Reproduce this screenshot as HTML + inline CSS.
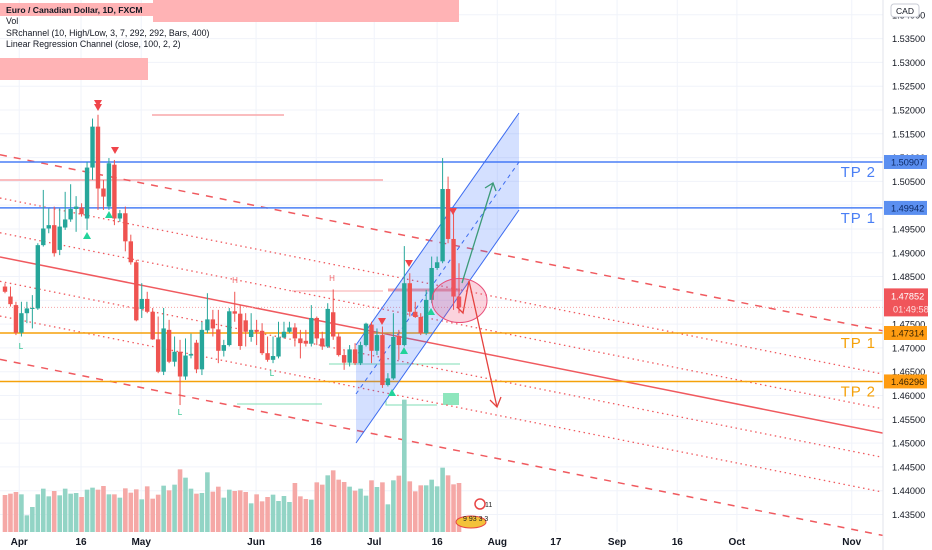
<!DOCTYPE html>
<html><head><meta charset="utf-8">
<style>
html,body{margin:0;padding:0;background:#fff;}
#wrap{position:relative;width:932px;height:550px;overflow:hidden;font-family:"Liberation Sans",sans-serif;}
svg text{font-family:"Liberation Sans",sans-serif;}
</style></head>
<body>
<div id="wrap">
<svg id="chart" width="932" height="550" xmlns="http://www.w3.org/2000/svg"></svg>
</div>
<script>
const opens=[1.4829,1.4808,1.4790,1.4732,1.4773,1.4783,1.4783,1.4916,1.4951,1.4958,1.4906,1.4953,1.4970,1.4992,1.4995,1.4972,1.5079,1.5165,1.5035,1.4997,1.5085,1.4972,1.4983,1.4924,1.4880,1.4782,1.4803,1.4776,1.4718,1.4650,1.4738,1.4671,1.4692,1.4640,1.4684,1.4711,1.4655,1.4737,1.4760,1.4739,1.4694,1.4706,1.4777,1.4772,1.4758,1.4723,1.4738,1.4736,1.4689,1.4675,1.4682,1.4722,1.4734,1.4743,1.4720,1.4715,1.4709,1.4763,1.4720,1.4703,1.4775,1.4724,1.4685,1.4669,1.4697,1.4668,1.4706,1.4749,1.4694,1.4727,1.4622,1.4636,1.4725,1.4706,1.4836,1.4776,1.4765,1.4731,1.4801,1.4868,1.4882,1.5034,1.4929,1.4808];
const closes=[1.4818,1.4792,1.4732,1.4773,1.4783,1.4784,1.4916,1.4951,1.4958,1.4899,1.4955,1.4970,1.4992,1.4997,1.4981,1.5079,1.5165,1.5035,1.5018,1.5088,1.4972,1.4983,1.4924,1.4880,1.4758,1.4803,1.4776,1.4718,1.4650,1.4741,1.4671,1.4692,1.4640,1.4684,1.4687,1.4655,1.4738,1.4760,1.4741,1.4694,1.4706,1.4777,1.4772,1.4704,1.4734,1.4738,1.4734,1.4689,1.4675,1.4683,1.4722,1.4734,1.4743,1.4720,1.4710,1.4709,1.4763,1.4720,1.4703,1.4782,1.4724,1.4685,1.4669,1.4697,1.4668,1.4706,1.4751,1.4694,1.4727,1.4622,1.4636,1.4723,1.4706,1.4836,1.4776,1.4765,1.4731,1.4801,1.4868,1.4880,1.5034,1.4929,1.4808,1.4785];
const highs=[1.4836,1.4829,1.4797,1.4797,1.4797,1.4811,1.4920,1.5032,1.4993,1.4997,1.4993,1.5028,1.5044,1.5019,1.5004,1.5091,1.5182,1.5190,1.5053,1.5099,1.5095,1.4990,1.4997,1.4938,1.4885,1.4836,1.4818,1.4784,1.4766,1.4784,1.4759,1.4724,1.4717,1.4720,1.4730,1.4717,1.4755,1.4815,1.4780,1.4780,1.4717,1.4784,1.4818,1.4790,1.4773,1.4773,1.4759,1.4752,1.4724,1.4724,1.4755,1.4755,1.4755,1.4752,1.4738,1.4738,1.4790,1.4766,1.4734,1.4794,1.4823,1.4732,1.4696,1.4706,1.4710,1.4713,1.4753,1.4755,1.4741,1.4745,1.4647,1.4773,1.4738,1.4914,1.4857,1.4797,1.4773,1.4822,1.4892,1.4892,1.5099,1.5060,1.4994,1.4878];
const lows=[1.4815,1.4787,1.4727,1.4724,1.4752,1.4741,1.4780,1.4913,1.4941,1.4892,1.4895,1.4948,1.4965,1.4944,1.4976,1.4948,1.5053,1.4990,1.4990,1.4990,1.4958,1.4965,1.4903,1.4875,1.4756,1.4763,1.4773,1.4717,1.4647,1.4643,1.4668,1.4661,1.4580,1.4633,1.4678,1.4647,1.4643,1.4731,1.4724,1.4668,1.4682,1.4703,1.4755,1.4696,1.4703,1.4713,1.4706,1.4685,1.4671,1.4668,1.4678,1.4720,1.4731,1.4703,1.4678,1.4703,1.4703,1.4706,1.4696,1.4700,1.4717,1.4682,1.4654,1.4661,1.4664,1.4664,1.4703,1.4668,1.4685,1.4616,1.4619,1.4633,1.4675,1.4703,1.4766,1.4763,1.4727,1.4727,1.4794,1.4864,1.4878,1.4920,1.4780,1.4773];
const volumes=[111,115,120,113,50,75,113,130,107,123,110,130,115,117,105,127,133,127,138,113,113,103,131,118,128,98,137,100,112,139,125,142,188,163,130,115,117,179,121,136,103,127,123,125,120,86,113,92,105,112,93,108,90,147,107,99,97,149,142,170,185,157,150,136,124,130,109,155,135,149,83,155,169,397,152,122,140,140,157,137,193,170,143,147];
const priceTicks=[1.435,1.44,1.445,1.45,1.455,1.46,1.465,1.47,1.475,1.48,1.485,1.49,1.495,1.5,1.505,1.51,1.515,1.52,1.525,1.53,1.535,1.54];
const dateLabels=["Apr","16","May","Jun","16","Jul","16","Aug","17","Sep","16","Oct","Nov"];
const dateIdx=[2.6,13.9,24.9,45.9,56.9,67.5,79,90,100.7,111.9,122.9,133.8,154.8];
const levelPrices=[1.50907,1.49942,1.47314,1.46296];
const levelNames=["TP 2","TP 1","TP 1","TP 2"];
const regStart=1.4891, regEnd=1.4521;
const regDevs=[-0.0215,-0.0124,-0.0051,0.0051,0.0124,0.0215];
const lastPrice=1.47852;

const NS="http://www.w3.org/2000/svg";
const svg=document.getElementById('chart');
const PW=883;
const yP=p=>162+(1.50907-p)*4759;
const xI=i=>5+5.47*i;
function mk(tag,attrs,parent){const e=document.createElementNS(NS,tag);for(const k in attrs)e.setAttribute(k,attrs[k]);(parent||svg).appendChild(e);return e;}

const grid=mk('g',{});


priceTicks.forEach(p=>{mk('line',{x1:0,x2:PW,y1:yP(p),y2:yP(p),stroke:'#f0f3fa','stroke-width':1},grid);});
dateIdx.forEach(i=>{mk('line',{x1:xI(i),x2:xI(i),y1:0,y2:532,stroke:'#f0f3fa','stroke-width':1},grid);});

const hb=mk('g',{});


mk('rect',{x:0,y:3,width:153,height:13,fill:'#ffb3b5'},hb);
mk('rect',{x:153,y:0,width:306,height:22,fill:'#ffb3b5'},hb);
mk('rect',{x:0,y:58,width:148,height:22,fill:'#ffb3b5'},hb);
mk('line',{x1:152,x2:284,y1:115,y2:115,stroke:'#f9a7aa','stroke-width':1.5},hb);
mk('line',{x1:0,x2:383,y1:180,y2:180,stroke:'#f9a7aa','stroke-width':1.5},hb);
mk('line',{x1:292,x2:383,y1:291,y2:291,stroke:'#f9a7aa','stroke-width':1},hb);
mk('line',{x1:388,x2:460,y1:290,y2:290,stroke:'#f5a0a3','stroke-width':3},hb);
mk('line',{x1:237,x2:322,y1:404,y2:404,stroke:'#7fdcb5','stroke-width':1},hb);
mk('line',{x1:329,x2:460,y1:364,y2:364,stroke:'#7fdcb5','stroke-width':1},hb);
mk('polyline',{points:'386,400 386,405 437,405',fill:'none',stroke:'#7fdcb5','stroke-width':1},hb);
mk('rect',{x:443,y:393,width:16,height:12,fill:'#8ee6bd'},hb);

const reg=mk('g',{});


mk('line',{x1:0,x2:PW,y1:yP(regStart),y2:yP(regEnd),stroke:'#f05a5f','stroke-width':1.5},reg);
regDevs.forEach(d=>{
  const outer=Math.abs(d)>0.02;
  mk('line',{x1:0,x2:PW,y1:yP(regStart+d),y2:yP(regEnd+d),stroke:'#f05a5f','stroke-width':outer?1.5:1.3,'stroke-dasharray':outer?'7,7':'1.5,3.5'},reg);
});

mk('line',{x1:0,x2:PW,y1:yP(lastPrice),y2:yP(lastPrice),stroke:'#f7a5a8','stroke-width':1,'stroke-dasharray':'1,2'});

levelPrices.forEach((p,k)=>{
  const col=k<2?'#4a7ff5':'#f5a10a';
  const l=mk('line',{x1:0,x2:PW,y1:yP(p),y2:yP(p),stroke:col,'stroke-width':1.5});
  
  
  const t=mk('text',{x:876,y:yP(p)+15,fill:col,'font-size':15,'text-anchor':'end','letter-spacing':'1'});
  t.textContent=levelNames[k];
  
  
});

const ch=mk('g',{});


mk('polygon',{points:'356,345 519,113 519,210 356,443',fill:'rgba(41,98,255,0.2)'},ch);
mk('line',{x1:356,y1:345,x2:519,y2:113,stroke:'#3d6cf0','stroke-width':1},ch);
mk('line',{x1:356,y1:443,x2:519,y2:210,stroke:'#3d6cf0','stroke-width':1},ch);
mk('line',{x1:356,y1:394,x2:519,y2:162,stroke:'#3d6cf0','stroke-width':1,'stroke-dasharray':'4,4'},ch);

const vg=mk('g',{});


volumes.forEach((v,i)=>{
  const up=closes[i]>=opens[i];
  const r=mk('rect',{x:xI(i)-2.3,y:532-v/3,width:4.6,height:v/3,fill:up?'#92d4c5':'#f5a8a6'},vg);
  
  
});

const cg=mk('g',{});


opens.forEach((o,i)=>{
  const c=closes[i],up=c>=o,col=up?'#26a69a':'#ef5350',x=xI(i);
  const g=mk('g',{},cg);
  
  
  mk('line',{x1:x,x2:x,y1:yP(highs[i]),y2:yP(lows[i]),stroke:col,'stroke-width':1},g);
  const t=Math.min(yP(o),yP(c)),h=Math.max(1,Math.abs(yP(o)-yP(c)));
  mk('rect',{x:x-2.2,y:t,width:4.4,height:h,fill:col},g);
});

const mg=mk('g',{});


[[87,236],[109,215],[392,393],[404,351],[431,312]].forEach(([x,y])=>mk('polygon',{points:`${x-4},${y+3} ${x+4},${y+3} ${x},${y-4}`,fill:'#22d39a'},mg));
[[98,103],[98,107],[115,150],[382,321],[409,263],[453,211]].forEach(([x,y])=>mk('polygon',{points:`${x-4},${y-3} ${x+4},${y-3} ${x},${y+4}`,fill:'#f0444a'},mg));
[[21,349,'L','#26c08a'],[180,415,'L','#26c08a'],[272,376,'L','#26c08a'],[235,283,'H','#f0666a'],[332,281,'H','#f0666a']].forEach(([x,y,s,c])=>{const t=mk('text',{x:x,y:y,fill:c,'font-size':8,'text-anchor':'middle'},mg);t.textContent=s;});

const an=mk('g',{});


mk('ellipse',{cx:459.5,cy:300.5,rx:27.5,ry:22,fill:'rgba(240,80,120,0.25)',stroke:'#e8507a','stroke-width':1},an);
mk('polyline',{points:'462,283 493,183',fill:'none',stroke:'#3c9a78','stroke-width':1.3},an);
mk('polyline',{points:'485,188 493,183 496,191',fill:'none',stroke:'#3c9a78','stroke-width':1.3},an);
mk('polyline',{points:'457,307 463,313 469,281 474,303 497,407',fill:'none',stroke:'#e5423e','stroke-width':1.3},an);
mk('polyline',{points:'490,400 497,407 501,397',fill:'none',stroke:'#e5423e','stroke-width':1.3},an);

const ax=mk('g',{});


mk('rect',{x:PW,y:0,width:49,height:550,fill:'#fff'},ax);
mk('line',{x1:PW,x2:PW,y1:0,y2:550,stroke:'#e0e3eb','stroke-width':1},ax);
priceTicks.forEach(p=>{const t=mk('text',{x:892,y:yP(p)+3.5,fill:'#131722','font-size':9.2},ax);t.textContent=p.toFixed(5);});
mk('rect',{x:891,y:4,width:28,height:13,rx:3,fill:'#fff',stroke:'#c8cbd4'},ax);
const cad=mk('text',{x:905,y:14,fill:'#131722','font-size':8.5,'text-anchor':'middle'},ax);cad.textContent='CAD';
function tag(p,bg,fg,name){const y=yP(p);mk('rect',{x:884,y:y-7,width:43,height:14,fill:bg},ax);const t=mk('text',{x:891,y:y+3.5,fill:fg,'font-size':9.2},ax);t.textContent=p.toFixed(5);}
tag(levelPrices[0],'#5b8ff0','#0d2a66','tp2-price-tag');
tag(levelPrices[1],'#5b8ff0','#0d2a66','tp1-price-tag');
tag(levelPrices[2],'#ff9c12','#3a2400','tp1-sell-price-tag');
tag(levelPrices[3],'#ff9c12','#3a2400','tp2-sell-price-tag');
{const y=yP(lastPrice);mk('rect',{x:884,y:y-19,width:44,height:28,fill:'#f0555a'},ax);
 const t1=mk('text',{x:891,y:y-8,fill:'#fff','font-size':9.2},ax);t1.textContent=lastPrice.toFixed(5);
 const t2=mk('text',{x:893,y:y+5,fill:'#ffe0e0','font-size':9.2},ax);t2.textContent='01:49:58';}

const tx=mk('g',{});


dateLabels.forEach((s,k)=>{const t=mk('text',{x:xI(dateIdx[k]),y:545,fill:'#131722','font-size':10,'font-weight':'bold','text-anchor':'middle'},tx);t.textContent=s;});

const lg=mk('g',{});


[['Euro / Canadian Dollar, 1D, FXCM',13,'bold',8.6],['Vol',24,'normal',8.8],['SRchannel (10, High/Low, 3, 7, 292, 292, Bars, 400)',36,'normal',8.8],['Linear Regression Channel (close, 100, 2, 2)',47,'normal',8.8]].forEach(([s,y,w,f])=>{const t=mk('text',{x:6,y:y,fill:'#131722','font-size':f,'font-weight':w},lg);t.textContent=s;});

const lo=mk('g',{});


mk('circle',{cx:480,cy:504,r:5,fill:'none',stroke:'#e84545','stroke-width':1.5},lo);
mk('ellipse',{cx:471,cy:522,rx:15,ry:6,fill:'#f3c23a',stroke:'#e84545'},lo);
const lt=mk('text',{x:463,y:521,fill:'#222','font-size':7},lo);lt.textContent='9 93 3 3';
const l2=mk('text',{x:485,y:507,fill:'#222','font-size':7},lo);l2.textContent='11';
</script>
</body></html>
